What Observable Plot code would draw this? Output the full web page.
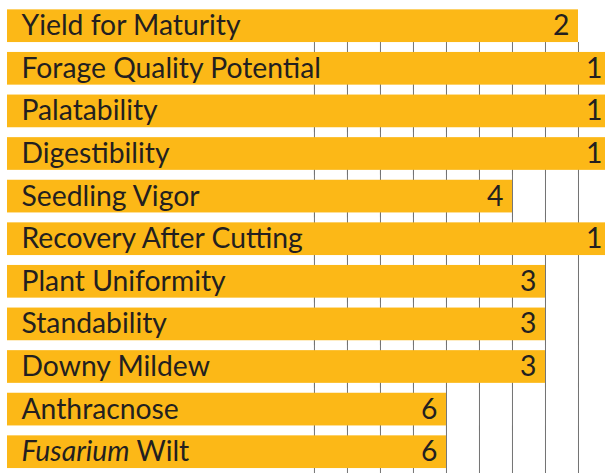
<!DOCTYPE html>
<html>
<head>
<meta charset="utf-8">
<script src="https://cdn.jsdelivr.net/npm/d3@7"></script>
<script src="https://cdn.jsdelivr.net/npm/@observablehq/plot@0.6"></script>
<style>
  html, body { margin: 0; padding: 0; background: #fff; overflow: hidden; }
  #chart svg { overflow: hidden; display: block; }
</style>
</head>
<body>
<div id="chart"></div>
<script>
// Trait names (top to bottom)
const traits = [
  "Yield for Maturity",
  "Forage Quality Potential",
  "Palatability",
  "Digestibility",
  "Seedling Vigor",
  "Recovery After Cutting",
  "Plant Uniformity",
  "Standability",
  "Downy Mildew",
  "Anthracnose",
  "Fusarium Wilt"
];
// Ratings (1 = best)
const ratings = [2, 1, 1, 1, 4, 1, 3, 3, 3, 6, 6];
// Rating grid lines
const gridRatings = [10, 9, 8, 7, 6, 5, 4, 3, 2];
// Rating axis: bars start at the left end (label area), rating 1 lies at the far right
const axisStart = 19.3;
const axisEnd = 1;

const rows = traits.map((t, i) => ({trait: t, rating: ratings[i]}));
const grid = [];
traits.slice(1).forEach(t => gridRatings.forEach(g => grid.push({trait: t, g})));

const barColor = "#FCB817";
const textColor = "#231F20";

const chart = Plot.plot({
  width: 605,
  height: 473,
  marginLeft: 7,
  marginRight: 0,
  marginTop: 4.4,
  marginBottom: 0,
  style: {fontFamily: "Lato, 'Open Sans', sans-serif", background: "#fff"},
  x: {domain: [axisStart, axisEnd], range: [7, 611], axis: null},
  y: {domain: traits, range: [4.4, 473], padding: 0, round: false, axis: null},
  marks: [
    Plot.tickX(grid, {x: "g", y: "trait", insetTop: -5, stroke: "#737373", strokeWidth: 1}),
    Plot.barX(rows, {x1: () => axisStart, x2: "rating", y: "trait", fill: barColor, insetTop: 4.95, insetBottom: 4.95}),
    Plot.text(rows, {y: "trait", text: "trait", frameAnchor: "left", textAnchor: "start", dx: 14, fill: textColor, fontSize: 28.3}),
    Plot.text(rows, {x: "rating", y: "trait", text: d => String(d.rating), textAnchor: "end", dx: -9, fill: textColor, fontSize: 28.3})
  ]
});

document.getElementById("chart").appendChild(chart);

// Italicize the genus name Fusarium
chart.querySelectorAll("text").forEach(el => {
  if (el.textContent === "Fusarium Wilt") {
    el.textContent = "";
    const ns = "http://www.w3.org/2000/svg";
    const it = document.createElementNS(ns, "tspan");
    it.setAttribute("font-style", "italic");
    it.textContent = "Fusarium";
    const rest = document.createElementNS(ns, "tspan");
    rest.textContent = " Wilt";
    el.appendChild(it);
    el.appendChild(rest);
  }
});
</script>
</body>
</html>
